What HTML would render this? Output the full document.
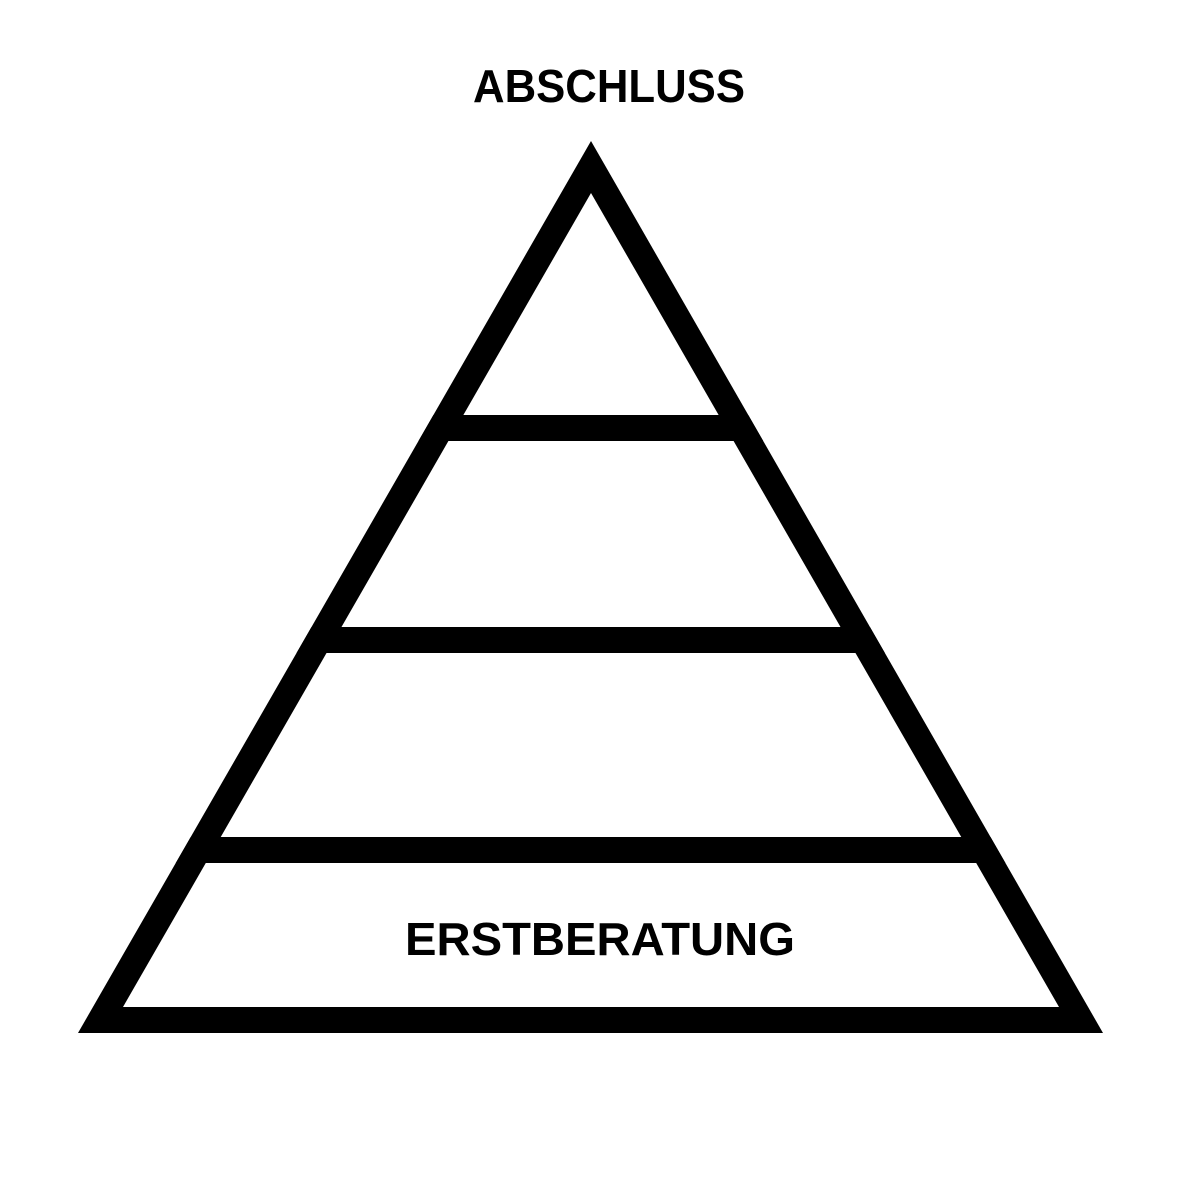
<!DOCTYPE html>
<html><head><meta charset="utf-8"><style>html,body{margin:0;padding:0;background:#fff;}svg{display:block;}</style></head>
<body>
<svg id="chart" width="1200" height="1200" viewBox="0 0 1200 1200" xmlns="http://www.w3.org/2000/svg">
<defs><clipPath id="tri"><polygon points="591,141 78,1033 1103,1033"/></clipPath></defs>
<rect width="1200" height="1200" fill="#fff"/>
<polygon points="591,141 78,1033 1103,1033" fill="#000"/>
<polygon points="591,193 123,1007 1059,1007" fill="#fff"/>
<g id="bars" clip-path="url(#tri)"></g>
<text x="609" y="102" text-anchor="middle" font-family="Liberation Sans, sans-serif" font-weight="bold" font-size="46" textLength="272" lengthAdjust="spacingAndGlyphs">ABSCHLUSS</text>
<text x="600" y="955" text-anchor="middle" font-family="Liberation Sans, sans-serif" font-weight="bold" font-size="46" textLength="390" lengthAdjust="spacingAndGlyphs">ERSTBERATUNG</text>
</svg>
<script>
const levelDividers = [415, 627, 837];
const dividerThickness = 26;
const g = document.getElementById('bars');
levelDividers.forEach(function (y, i) {
  const r = document.createElementNS('http://www.w3.org/2000/svg', 'rect');
  r.setAttribute('x', 0);
  r.setAttribute('y', y);
  r.setAttribute('width', 1200);
  r.setAttribute('height', dividerThickness);
  r.setAttribute('fill', '#000');
  
  
  g.appendChild(r);
});
</script>
</body></html>
